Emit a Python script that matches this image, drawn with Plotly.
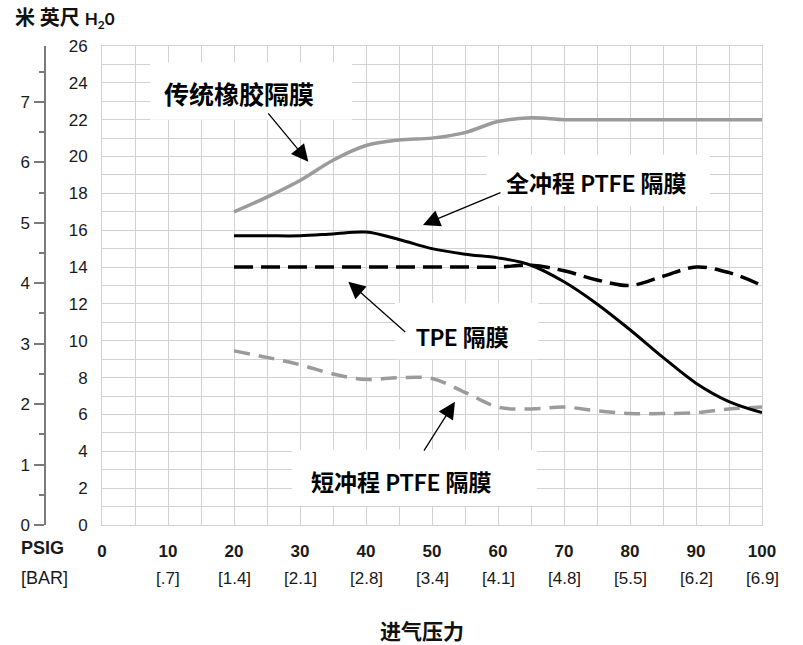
import plotly.graph_objects as go

# ---------------- data ----------------
psi = [20, 25, 30, 35, 40, 45, 50, 55, 60, 65, 70, 75, 80, 85, 90, 95, 100]
rubber = [17.0, 17.8, 18.7, 19.8, 20.6, 20.9, 21.0, 21.3, 21.9, 22.1, 22.0, 22.0, 22.0, 22.0, 22.0, 22.0, 22.0]
full_ptfe = [15.7, 15.7, 15.7, 15.8, 15.9, 15.5, 15.0, 14.7, 14.5, 14.1, 13.2, 12.0, 10.6, 9.1, 7.7, 6.7, 6.1]
tpe = [14.0, 14.0, 14.0, 14.0, 14.0, 14.0, 14.0, 14.0, 14.0, 14.1, 13.8, 13.3, 13.0, 13.5, 14.0, 13.7, 13.0]
short_ptfe = [9.45, 9.1, 8.7, 8.2, 7.9, 8.0, 7.95, 7.2, 6.4, 6.3, 6.4, 6.2, 6.05, 6.05, 6.1, 6.3, 6.4]

x_ticks = [0, 10, 20, 30, 40, 50, 60, 70, 80, 90, 100]
bar_labels = ["", "[.7]", "[1.4]", "[2.1]", "[2.8]", "[3.4]", "[4.1]", "[4.8]", "[5.5]", "[6.2]", "[6.9]"]
ft_ticks = list(range(0, 27, 2))
m_ticks = [0, 1, 2, 3, 4, 5, 6, 7]
FT_PER_M = 3.28084

# ---------------- layout geometry ----------------
W, H = 803, 645
ML, MR, MT, MB = 10, 41, 46, 120
PW, PH = W - ML - MR, H - MT - MB


def px_x(px):
    return (px - ML) / PW


def px_y(py):
    return (H - MB - py) / PH


NUM_FONT = "Liberation Sans, Arial, sans-serif"
CJK_FONT = "Lato, 'Noto Sans CJK SC', sans-serif"
GRID = "#d2d2d2"
AX = "#7a7a7a"

fig = go.Figure()
fig.add_trace(go.Scatter(x=psi, y=rubber, mode="lines",
                         line=dict(color="#9b9b9b", width=3.5, shape="spline"), hoverinfo="skip"))
fig.add_trace(go.Scatter(x=psi, y=short_ptfe, mode="lines",
                         line=dict(color="#9b9b9b", width=3.5, shape="spline", dash="16px,9px"), hoverinfo="skip"))
fig.add_trace(go.Scatter(x=psi, y=tpe, mode="lines",
                         line=dict(color="#000000", width=3.5, shape="spline", dash="19px,8px"), hoverinfo="skip"))
fig.add_trace(go.Scatter(x=psi, y=full_ptfe, mode="lines",
                         line=dict(color="#000000", width=3, shape="spline"), hoverinfo="skip"))
# carrier for the metre axis
fig.add_trace(go.Scatter(x=[None], y=[None], yaxis="y2", mode="lines", showlegend=False, hoverinfo="skip"))

fig.update_layout(
    width=W, height=H, showlegend=False,
    margin=dict(l=ML, r=MR, t=MT, b=MB, autoexpand=False),
    paper_bgcolor="white", plot_bgcolor="white",
    xaxis=dict(domain=[px_x(102), 1], range=[0, 100],
               tickmode="array", tickvals=x_ticks, ticktext=[f"<b>{v}</b>" for v in x_ticks],
               tickfont=dict(family=NUM_FONT, size=17, color="#1a1a1a"),
               showgrid=True, gridcolor=GRID, gridwidth=1,
               minor=dict(tick0=0, dtick=5, showgrid=True, gridcolor=GRID, gridwidth=1),
               zeroline=False, showline=True, linecolor=GRID, linewidth=1, mirror=True,
               ticks="", ticklabelstandoff=11, fixedrange=True, automargin=False),
    yaxis=dict(range=[0, 26], tickmode="array", tickvals=ft_ticks,
               tickfont=dict(family=NUM_FONT, size=17, color="#1a1a1a"),
               showgrid=True, gridcolor=GRID, gridwidth=1,
               minor=dict(tick0=0, dtick=1, showgrid=True, gridcolor=GRID, gridwidth=1),
               zeroline=False, showline=True, linecolor=GRID, linewidth=1, mirror=True,
               ticks="", ticklabelstandoff=10, fixedrange=True, automargin=False),
    yaxis2=dict(overlaying="y", anchor="free", position=px_x(45), side="left",
                range=[0, 26 / FT_PER_M], tickmode="array", tickvals=m_ticks,
                tickfont=dict(family=NUM_FONT, size=17, color="#1a1a1a"),
                ticks="outside", ticklen=10, tickwidth=1.5, tickcolor=AX,
                minor=dict(tick0=0, dtick=0.5, ticks="outside", ticklen=5, tickwidth=1.5,
                           tickcolor=AX, showgrid=False),
                showline=True, linecolor=AX, linewidth=1.5,
                showgrid=False, zeroline=False, ticklabelstandoff=1, fixedrange=True,
                automargin=False),
)

ann = []
# bar row under x ticks
for v, lab in zip(x_ticks, bar_labels):
    if lab:
        ann.append(dict(x=v, xref="x", y=px_y(578), yref="paper", text=lab, showarrow=False,
                        xanchor="center", yanchor="middle",
                        font=dict(family=NUM_FONT, size=17, color="#1a1a1a")))
ann.append(dict(x=px_x(19), xref="paper", y=px_y(548), yref="paper", text="<b>PSIG</b>",
                showarrow=False, xanchor="left", yanchor="middle",
                font=dict(family=NUM_FONT, size=18, color="#1a1a1a")))
ann.append(dict(x=px_x(19), xref="paper", y=px_y(578), yref="paper", text="[BAR]",
                showarrow=False, xanchor="left", yanchor="middle",
                font=dict(family=NUM_FONT, size=18, color="#1a1a1a")))
ann.append(dict(x=px_x(422), xref="paper", y=px_y(630), yref="paper", text="<b>进气压力</b>",
                showarrow=False, xanchor="center", yanchor="middle",
                font=dict(family=CJK_FONT, size=21, color="#111111")))
ann.append(dict(x=px_x(13), xref="paper", y=px_y(18), yref="paper",
                text="<b>米 英尺 <span style='font-size:17px'>H<sub>2</sub>0</span></b>",
                showarrow=False, xanchor="left", yanchor="middle",
                font=dict(family=CJK_FONT, size=20, color="#111111")))

# callout boxes and labels
boxes = [
    # (x0, x1, y0, y1) in data units
    (7.3, 37.9, 22.0, 25.1),
    (58.3, 92.1, 17.3, 20.1),
    (44.4, 66.1, 9.0, 12.05),
    (28.8, 65.9, 1.05, 4.1),
]
shapes = []
for x0, x1, y0, y1 in boxes:
    shapes.append(dict(type="rect", xref="x", yref="y", x0=x0, x1=x1, y0=y0, y1=y1,
                       fillcolor="white", line=dict(width=0), layer="above"))

labels = [
    ("传统橡胶隔膜", 20.8, 23.4, 25),
    ("全冲程 PTFE 隔膜", 74.9, 18.57, 23),
    ("TPE 隔膜", 54.6, 10.21, 23),
    ("短冲程 PTFE 隔膜", 45.3, 2.33, 23),
]
for t, x, y, s in labels:
    ann.append(dict(x=x, xref="x", y=y, yref="y", text=f"<b>{t}</b>", showarrow=False,
                    xanchor="center", yanchor="middle",
                    font=dict(family=CJK_FONT, size=s, color="#000000")))

arrows = [
    # tail (ax, ay) -> tip (x, y), data units
    (25.0, 22.42, 31.26, 19.72),
    (60.6, 18.08, 48.64, 16.29),
    (46.17, 10.41, 37.32, 13.21),
    (48.64, 3.96, 53.48, 6.69),
]
for ax, ay, x, y in arrows:
    ann.append(dict(x=x, y=y, xref="x", yref="y", ax=ax, ay=ay, axref="x", ayref="y",
                    text="", showarrow=True, arrowhead=2, arrowsize=2.6, arrowwidth=1.3,
                    arrowcolor="#000000", standoff=0, startstandoff=0))

fig.update_layout(annotations=ann, shapes=shapes)
fig.write_html("out.html", config={"displayModeBar": False},
               post_script="document.body.style.margin='0';document.body.style.padding='0';")
